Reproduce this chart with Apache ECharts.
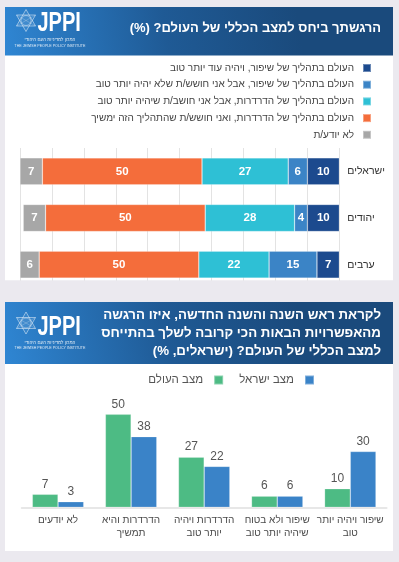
<!DOCTYPE html>
<html dir="rtl"><head><meta charset="utf-8">
<script src="https://cdn.jsdelivr.net/npm/echarts@6/dist/echarts.min.js"></script>
<style>html,body{margin:0;padding:0;background:#ebe9ef}#c{width:399px;height:562px}</style>
</head><body><div id="c" dir="rtl"></div>
<script>
// ---- Chart 1 data ----
const groups1 = ['ישראלים', 'יהודים', 'ערבים'];
const answers1 = [
  'העולם בתהליך של שיפור, ויהיה עוד יותר טוב',
  'העולם בתהליך של שיפור, אבל אני חושש/ת שלא יהיה יותר טוב',
  'העולם בתהליך של הדרדרות, אבל אני חושב/ת שיהיה יותר טוב',
  'העולם בתהליך של הדרדרות, ואני חושש/ת שהתהליך הזה ימשיך',
  'לא יודע/ת'
];
const improveBetter = [10, 10, 7];
const improveWorry = [6, 4, 15];
const declineBetter = [27, 28, 22];
const declineContinue = [50, 50, 50];
const dontKnow = [7, 7, 6];
const title1 = 'הרגשתך ביחס למצב הכללי של העולם? (%)';

// ---- Chart 2 data ----
const categories2 = [
  'לא יודעים',
  'הדרדרות והיא\nתמשיך',
  'הדרדרות ויהיה\nיותר טוב',
  'שיפור ולא בטוח\nשיהיה יותר טוב',
  'שיפור ויהיה יותר\nטוב'
];
const seriesNames2 = ['מצב העולם', 'מצב ישראל'];
const worldState = [7, 50, 27, 6, 10];
const israelState = [3, 38, 22, 6, 30];
const title2 = 'לקראת ראש השנה והשנה החדשה, איזו הרגשה\nמהאפשרויות הבאות הכי קרובה לשלך בהתייחס\nלמצב הכללי של העולם? (ישראלים, %)';

const FONT = '"Liberation Sans", Arial, sans-serif';
const colors1 = ['#1c4a8e', '#3b84c6', '#2ec0d5', '#f46d3b', '#a7a7a7'];
const colors2 = ['#4dbb84', '#3a83c8'];
const BG = '#ebe9ef';

// right-to-left embedding for each line of Hebrew text
function rtl(s) {
  return String(s).split('\n').map(l => '\u202B' + l + '\u202C').join('\n');
}

const chart = echarts.init(document.getElementById('c'));

function headerGrad() {
  return new echarts.graphic.LinearGradient(0, 1, 0.75, 0, [
    { offset: 0, color: '#2f86d3' },
    { offset: 0.55, color: '#1f5a95' },
    { offset: 1, color: '#1a4a7c' }
  ]);
}

function logo(cx, cy, jy, ty) {
  const r = 11;
  const k = 0.866;
  const st = { fill: 'rgba(255,255,255,0.05)', stroke: 'rgba(255,255,255,0.6)', lineWidth: 0.8 };
  return [
    { type: 'polygon', z: 20, shape: { points: [[cx, cy - r], [cx + r * k, cy + r / 2], [cx - r * k, cy + r / 2]] }, style: st },
    { type: 'polygon', z: 20, shape: { points: [[cx, cy + r], [cx + r * k, cy - r / 2], [cx - r * k, cy - r / 2]] }, style: st },
    { type: 'circle', z: 20, shape: { cx: cx, cy: cy, r: r * 0.45 }, style: { fill: 'none', stroke: 'rgba(255,255,255,0.5)', lineWidth: 0.7 } },
    { type: 'polyline', z: 20, shape: { points: [[cx - r * k, cy - r / 2], [cx + r * k, cy + r / 2]] }, style: { stroke: 'rgba(255,255,255,0.35)', lineWidth: 0.6 } },
    { type: 'polyline', z: 20, shape: { points: [[cx + r * k, cy - r / 2], [cx - r * k, cy + r / 2]] }, style: { stroke: 'rgba(255,255,255,0.35)', lineWidth: 0.6 } },
    { type: 'text', z: 20, x: 37.5, y: jy, scaleX: 0.74, style: { text: 'JPPI', font: 'bold 27px ' + FONT, fill: '#ffffff', verticalAlign: 'middle', align: 'left' } },
    { type: 'text', z: 20, x: 50, y: ty, style: { text: rtl('המכון למדיניות העם היהודי'), font: '4.5px ' + FONT, fill: 'rgba(255,255,255,0.85)', verticalAlign: 'middle', align: 'center' } },
    { type: 'text', z: 20, x: 50, y: ty + 5.5, style: { text: 'THE JEWISH PEOPLE POLICY INSTITUTE', font: '3.6px ' + FONT, fill: 'rgba(255,255,255,0.85)', verticalAlign: 'middle', align: 'center' } }
  ];
}

const graphicEls = [
  { type: 'rect', z: -10, shape: { x: 5, y: 7, width: 388, height: 273.5 }, style: { fill: '#ffffff' } },
  { type: 'rect', z: -5, shape: { x: 5, y: 7, width: 388, height: 48.5 }, style: { fill: headerGrad() } },
  { type: 'rect', z: 100, shape: { x: 0, y: 280.5, width: 399, height: 21.5 }, style: { fill: BG } },
  { type: 'rect', z: -10, shape: { x: 5, y: 302, width: 388, height: 249 }, style: { fill: '#ffffff' } },
  { type: 'rect', z: -5, shape: { x: 5, y: 302, width: 388, height: 62 }, style: { fill: headerGrad() } },
  { type: 'text', z: 20, x: 381, y: 28, style: { text: rtl(title1), font: 'bold 13px ' + FONT, fill: '#ffffff', align: 'right', verticalAlign: 'middle' } },
  { type: 'text', z: 20, x: 381, y: 333, style: { text: rtl(title2), font: 'bold 13.3px ' + FONT, lineHeight: 18, fill: '#ffffff', align: 'right', verticalAlign: 'middle' } }
].concat(logo(26, 20.5, 23.5, 40)).concat(logo(26, 323, 327.5, 342.5));

const stackVals = [improveBetter, improveWorry, declineBetter, declineContinue, dontKnow];
const series1 = answers1.map((name, i) => ({
  type: 'bar',
  name: name,
  stack: 'total',
  xAxisIndex: 0,
  yAxisIndex: 0,
  barWidth: 27,
  data: stackVals[i],
  itemStyle: { color: colors1[i], borderColor: 'rgba(255,255,255,0.35)', borderWidth: 0.6 },
  label: { show: true, position: 'inside', color: '#ffffff', fontWeight: 'bold', fontSize: 11.5, fontFamily: FONT }
}));

const vals2 = [worldState, israelState];
const series2 = seriesNames2.map((name, i) => ({
  type: 'bar',
  name: name,
  xAxisIndex: 1,
  yAxisIndex: 1,
  barWidth: 25.7,
  barGap: '0%',
  data: vals2[i],
  itemStyle: { color: colors2[i], borderColor: 'rgba(255,255,255,0.35)', borderWidth: 0.6 },
  label: { show: true, position: 'top', distance: 4, color: '#555555', fontSize: 12, fontFamily: FONT }
}));

chart.setOption({
  backgroundColor: BG,
  animation: false,
  textStyle: { fontFamily: FONT },
  graphic: { elements: graphicEls },
  legend: [
    {
      data: answers1,
      formatter: rtl,
      orient: 'vertical',
      right: 27,
      top: 61.5,
      align: 'right',
      itemWidth: 8,
      itemHeight: 8,
      itemGap: 3.7,
      icon: 'rect',
      selectedMode: false,
      padding: 0,
      textStyle: { fontSize: 10, lineHeight: 13, color: '#444444', fontFamily: FONT, padding: [0, 4, 0, 0] }
    },
    {
      data: seriesNames2,
      formatter: rtl,
      orient: 'horizontal',
      right: 84,
      top: 374,
      align: 'right',
      itemWidth: 9,
      itemHeight: 9,
      itemGap: 15,
      icon: 'rect',
      selectedMode: false,
      padding: 0,
      textStyle: { fontSize: 11.5, color: '#555555', fontFamily: FONT, padding: [0, 6, 0, 0] }
    }
  ],
  grid: [
    { left: 20, top: 148, width: 319.3, height: 140 },
    { left: 21.5, top: 395.7, width: 365.3, height: 111.6 }
  ],
  xAxis: [
    {
      gridIndex: 0, type: 'value', min: 0, max: 100, interval: 10, inverse: true,
      axisLabel: { show: false }, axisLine: { show: false }, axisTick: { show: false },
      splitLine: { show: true, lineStyle: { color: '#e3e3e3', width: 1 } }
    },
    {
      gridIndex: 1, type: 'category', data: categories2,
      axisLine: { show: true, lineStyle: { color: '#e0e0e0', width: 1.5 } },
      axisTick: { show: false },
      axisLabel: { color: '#4a4a4a', fontSize: 10, lineHeight: 12.5, margin: 7, interval: 0, fontFamily: FONT, formatter: rtl }
    }
  ],
  yAxis: [
    {
      gridIndex: 0, type: 'category', data: groups1, inverse: true, position: 'right',
      axisLine: { show: false }, axisTick: { show: false },
      axisLabel: { color: '#333333', fontSize: 10.5, margin: 8, fontFamily: FONT, formatter: rtl }
    },
    {
      gridIndex: 1, type: 'value', min: 0, max: 60, show: false,
      splitLine: { show: false }
    }
  ],
  series: series1.concat(series2)
});
</script></body></html>
